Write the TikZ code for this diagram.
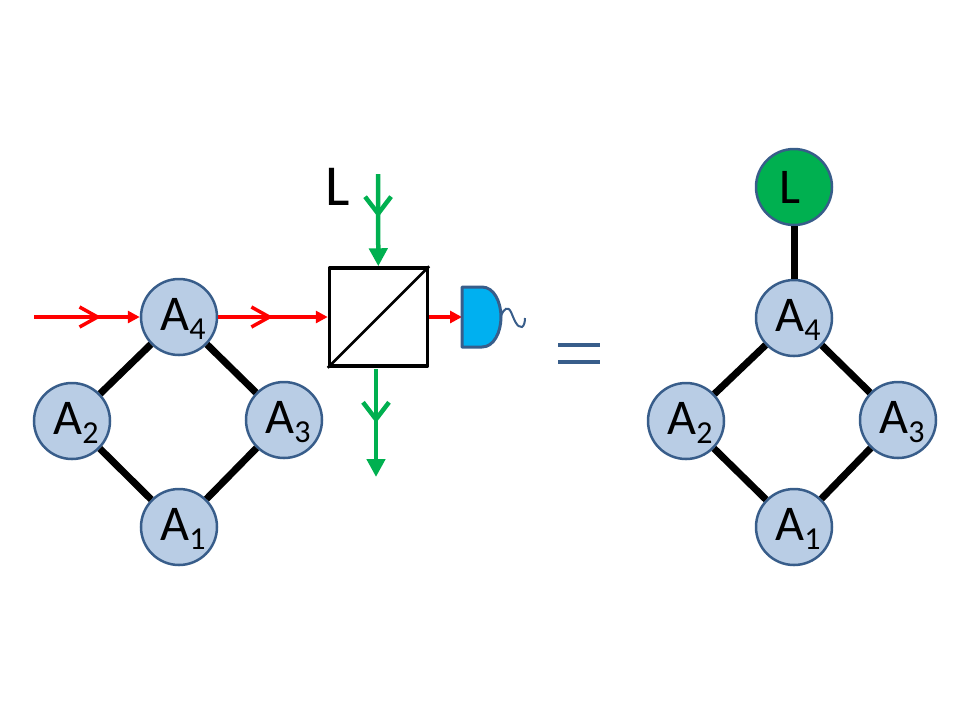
\documentclass[tikz,border=0pt]{standalone}
\usepackage{fontspec}
\setmainfont{Carlito}
\usetikzlibrary{arrows.meta,decorations.markings}
\definecolor{qubitblue}{RGB}{185,205,229}
\definecolor{rimblue}{RGB}{56,93,138}
\definecolor{beamgreen}{RGB}{0,176,80}
\definecolor{detblue}{RGB}{0,176,240}
\newcommand{\qlabel}[2]{\raisebox{-6.5pt}[0pt][0pt]{\fontsize{25}{27}\selectfont\kern4pt #1\raisebox{-4.5pt}{\fontsize{16}{18}\selectfont #2}}}
\tikzset{
  qubit/.style={circle,draw=rimblue,fill=qubitblue,line width=1.25pt,minimum size=38pt,inner sep=0pt,text=black},
  bond/.style={line width=3.5pt,black},
  redbeam/.style={line width=1.75pt,red,-{Triangle[length=6pt,width=6pt]}},
  greenbeam/.style={line width=2.25pt,beamgreen,-{Triangle[length=9pt,width=9pt]}},
  chevron/.style={postaction={decorate},decoration={markings,mark=at position #1 with {\arrow{Straight Barb[length=9pt,width=10pt]}}}},
  gchevron/.style={postaction={decorate},decoration={markings,mark=at position #1 with {\arrow{Straight Barb[length=8.5pt,width=13pt]}}}},
}
\begin{document}
\begin{tikzpicture}[x=0.5pt,y=0.5pt,yscale=-1,xscale=1]
\useasboundingbox (0,0) rectangle (960,720);
%Left square
\node[qubit] (A4) at (179,317) {\qlabel{A}{4}};
\node[qubit] (A2) at (72,421) {\qlabel{A}{2}};
\node[qubit] (A3) at (284,420) {\qlabel{A}{3}};
\node[qubit] (A1) at (179,527) {\qlabel{A}{1}};
\draw[bond] (A4) -- (A2);
\draw[bond] (A4) -- (A3);
\draw[bond] (A2) -- (A1);
\draw[bond] (A3) -- (A1);
%Beam splitter
\node[draw,line width=1.75pt,line join=round,minimum size=49pt,inner sep=0pt] (BS) at (378.5,317) {};
\draw[line width=1.25pt] (BS.south west) -- (BS.north east);
%Beams
\coordinate (redin) at (34,317);
\coordinate (greenin) at (378,174);
\coordinate (greenout) at (376,477);
\coordinate (greenstart) at (376,369);
\coordinate (det) at (462,317);
\draw[redbeam,chevron=0.635] (redin) -- (A4);
\draw[redbeam,chevron=0.5] (A4) -- (BS);
\draw[redbeam] (BS) -- (det);
\draw[greenbeam,gchevron=0.47] (greenin) -- (BS);
\draw[greenbeam,gchevron=0.5] (greenstart) -- (greenout);
\node[font=\fontsize{29}{31}\selectfont,inner sep=0pt] (Ltext) at (338,187) {L};
%Detector
\draw[line width=1.5pt,draw=rimblue,fill=detblue,line join=round] (det |- 0,287) -- (482,287) .. controls (494,287) and (501,302) .. (501,317) .. controls (501,332) and (494,347) .. (482,347) -- (det |- 0,347) -- cycle;
\draw[line width=1pt,rimblue] (501,316) .. controls (504,308) and (508,306) .. (511,312) .. controls (514,319) and (517,328) .. (522,327) .. controls (524,326) and (525,322) .. (525,318);
%Equals
\draw[line width=2.25pt,rimblue] (558,345) -- (600,345);
\draw[line width=2.25pt,rimblue] (558,362) -- (600,362);
%Right square
\node[qubit,fill=beamgreen] (L) at (794,187) {\fontsize{25}{27}\selectfont\kern-4pt L};
\node[qubit] (B4) at (794,318) {\qlabel{A}{4}};
\node[qubit] (B2) at (686,421) {\qlabel{A}{2}};
\node[qubit] (B3) at (898,420) {\qlabel{A}{3}};
\node[qubit] (B1) at (794,527) {\qlabel{A}{1}};
\draw[bond] (L) -- (B4);
\draw[bond] (B4) -- (B2);
\draw[bond] (B4) -- (B3);
\draw[bond] (B2) -- (B1);
\draw[bond] (B3) -- (B1);
\end{tikzpicture}
\end{document}
